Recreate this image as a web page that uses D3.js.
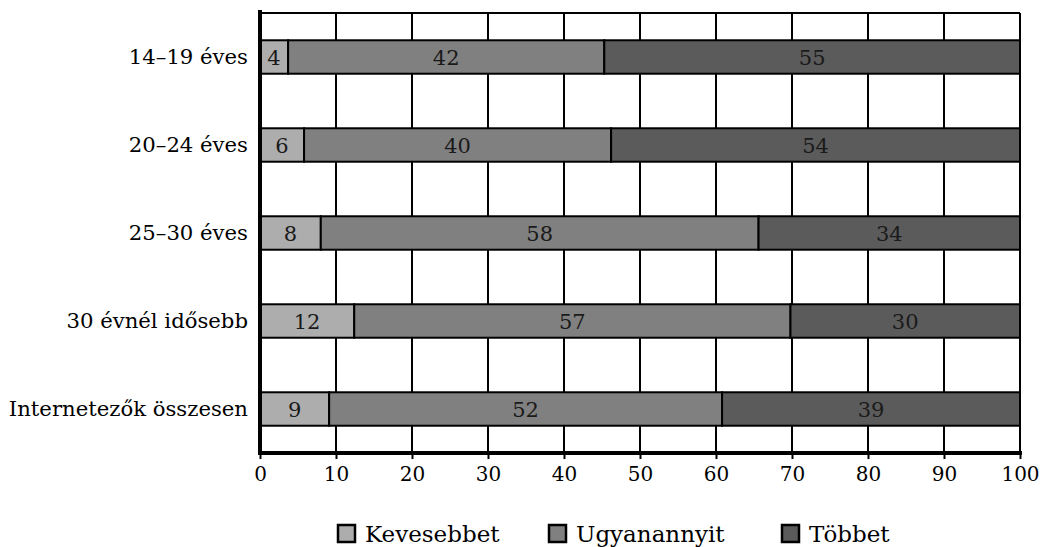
<!DOCTYPE html>
<html>
<head>
<meta charset="utf-8">
<script src="https://cdn.jsdelivr.net/npm/d3@7"></script>
<style>
  html, body { margin: 0; padding: 0; background: #fff; }
  svg { display: block; font-family: "DejaVu Serif", serif; }
</style>
</head>
<body>
<svg id="chart" width="1041" height="547"></svg>
<script>
const categories = ["14–19 éves", "20–24 éves", "25–30 éves", "30 évnél idősebb", "Internetezők összesen"];
const seriesNames = ["Kevesebbet", "Ugyanannyit", "Többet"];
const kevesebbet = [3.7, 5.8, 8.0, 12.4, 9.1];
const ugyanannyit = [41.6, 40.4, 57.6, 57.4, 51.7];
const tobbet = [54.7, 53.8, 34.4, 30.2, 39.2];
const xTicks = [0, 10, 20, 30, 40, 50, 60, 70, 80, 90, 100];
const colors = ["#adadad", "#808080", "#5b5b5b"];

const svg = d3.select("#chart");
const L = 260, R = 1020, T = 13, B = 453;

const x = d3.scaleLinear().domain([0, 100]).range([L, R]);
const y = d3.scaleBand().domain(categories).range([T, B]).paddingInner(0.62).paddingOuter(0.31);

const rows = categories.map((c, i) => ({ cat: c, vals: [kevesebbet[i], ugyanannyit[i], tobbet[i]] }));

// vertical gridlines
svg.append("g").selectAll("line").data(xTicks.slice(1)).join("line")
  .attr("x1", d => x(d)).attr("x2", d => x(d))
  .attr("y1", T).attr("y2", B)
  .attr("stroke", "#000").attr("stroke-width", 2);
// top border
svg.append("line").attr("x1", L).attr("x2", R).attr("y1", T).attr("y2", T)
  .attr("stroke", "#000").attr("stroke-width", 2);

// bars
const segs = [];
rows.forEach(r => {
  let acc = 0;
  r.vals.forEach((v, k) => {
    segs.push({ cat: r.cat, k, x0: acc, x1: acc + v, v });
    acc += v;
  });
});
const g = svg.append("g");
g.selectAll("rect").data(segs).join("rect")
  .attr("x", d => x(d.x0)).attr("width", d => x(d.x1) - x(d.x0))
  .attr("y", d => y(d.cat)).attr("height", y.bandwidth())
  .attr("fill", d => colors[d.k])
  .attr("stroke", "#000").attr("stroke-width", 2);
g.selectAll("text").data(segs).join("text")
  .attr("x", d => (x(d.x0) + x(d.x1)) / 2)
  .attr("y", d => y(d.cat) + y.bandwidth() / 2)
  .attr("dy", "0.36em")
  .attr("text-anchor", "middle")
  .attr("font-size", 21).attr("fill", "#1a1a1a")
  .text(d => Math.round(d.v));

// x axis
const xAxis = d3.axisBottom(x).tickValues(xTicks).tickSize(6).tickPadding(8).tickSizeOuter(0);
const ax = svg.append("g").attr("transform", `translate(0,${B})`).call(xAxis);
ax.select(".domain").remove();
ax.selectAll(".tick line").attr("stroke", "#000").attr("stroke-width", 2);
ax.selectAll(".tick text").attr("font-size", 20).attr("font-family", "DejaVu Serif").attr("fill", "#000");
svg.append("line").attr("x1", L - 2).attr("x2", R + 2).attr("y1", B).attr("y2", B)
  .attr("stroke", "#000").attr("stroke-width", 4);

// y axis
const yAxis = d3.axisLeft(y).tickSize(0).tickPadding(12);
const ay = svg.append("g").attr("transform", `translate(${L},0)`).call(yAxis);
ay.select(".domain").remove();
ay.selectAll(".tick text").attr("font-size", 21.2).attr("font-family", "DejaVu Serif").attr("fill", "#000");
svg.append("line").attr("x1", L).attr("x2", L).attr("y1", T - 3).attr("y2", B + 2)
  .attr("stroke", "#000").attr("stroke-width", 4);

// legend
const legendX = [338, 549, 782];
const lg = svg.append("g").selectAll("g").data(seriesNames).join("g")
  .attr("transform", (d, i) => `translate(${legendX[i]},534)`);
lg.append("rect").attr("x", 0).attr("y", -9).attr("width", 17).attr("height", 17)
  .attr("fill", (d, i) => colors[i]).attr("stroke", "#000").attr("stroke-width", 2.5);
lg.append("text").attr("x", 27).attr("y", 0).attr("dy", "0.36em")
  .attr("font-size", 23).attr("fill", "#000").text(d => d);
</script>
</body>
</html>
